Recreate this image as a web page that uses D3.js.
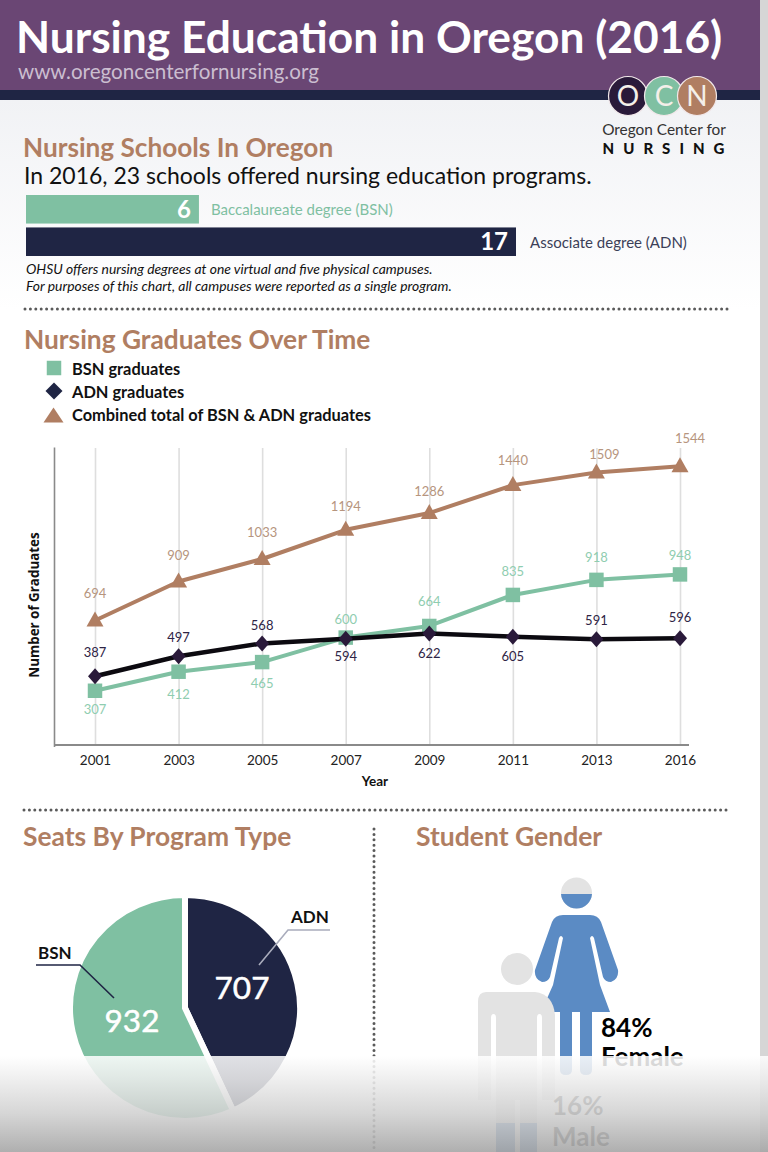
<!DOCTYPE html>
<html><head><meta charset="utf-8">
<script src="https://cdn.jsdelivr.net/npm/d3@7"></script>
<style>html,body{margin:0;padding:0;background:#fff}svg{display:block}text{font-family:Lato,"Open Sans",sans-serif}</style>
</head><body><div id="c"></div>
<script>
const schoolTypes=["Baccalaureate degree (BSN)","Associate degree (ADN)"];
const schoolCounts=[6,17];
const years=["2001","2003","2005","2007","2009","2011","2013","2016"];
const bsnGrads=[307,412,465,600,664,835,918,948];
const adnGrads=[387,497,568,594,622,605,591,596];
const totalGrads=[694,909,1033,1194,1286,1440,1509,1544];
const seatTypes=["ADN","BSN"];
const seatCounts=[707,932];
const genderShares=[84,16];
const genderNames=["Female","Male"];

const C={purple:"#6a4674",navy:"#1f2544",green:"#7fc0a2",tan:"#b07e62",ink:"#2a1a3a",blue:"#5b8bc4",gray:"#e3e3e3"};
const svg=d3.select("#c").append("svg").attr("width",768).attr("height",1152).attr("viewBox","0 0 768 1152");
const defs=svg.append("defs");
const bg=defs.append("linearGradient").attr("id","bg").attr("x1",0).attr("x2",0).attr("y1",0).attr("y2",1);
bg.append("stop").attr("offset",0).attr("stop-color","#f1f2f5");bg.append("stop").attr("offset",1).attr("stop-color","#ffffff");
const fade=defs.append("linearGradient").attr("id","fade").attr("x1",0).attr("x2",0).attr("y1",0).attr("y2",1);
[[0,"#ffffff",.86],[.25,"#ececec",.88],[.6,"#d0d0d0",.88],[1,"#a6a6a6",.9]].forEach(s=>fade.append("stop").attr("offset",s[0]).attr("stop-color",s[1]).attr("stop-opacity",s[2]));
const T=(x,y,s,size,fill,opt={})=>svg.append("text").attr("x",x).attr("y",y).text(s).attr("font-size",size).attr("fill",fill)
  .attr("font-weight",opt.w||400).attr("text-anchor",opt.a||"start").attr("font-style",opt.i||"normal").attr("letter-spacing",opt.ls||null);

/* page */
svg.append("rect").attr("width",768).attr("height",1152).attr("fill","#fff");
svg.append("rect").attr("y",100).attr("width",760).attr("height",210).attr("fill","url(#bg)");
svg.append("rect").attr("width",760).attr("height",90).attr("fill",C.purple);
svg.append("rect").attr("y",90).attr("width",760).attr("height",10).attr("fill",C.navy);
svg.append("rect").attr("x",760).attr("width",8).attr("height",1152).attr("fill","#d6d6d6");
T(16,53,"Nursing Education in Oregon (2016)",44.3,"#fff",{w:700});
T(18,79,"www.oregoncenterfornursing.org",20.6,"#cbbed0");

/* logo */
[["O",628,C.ink],["C",664,C.green],["N",697,C.tan]].forEach(d=>{
  svg.append("circle").attr("cx",d[1]).attr("cy",96).attr("r",19.5).attr("fill",d[2]).attr("stroke","#f1e8ea").attr("stroke-width",1.2);
  T(d[1],106,d[0],28,"#f4efe9",{a:"middle"});
});
T(664,135,"Oregon Center for",15.4,"#333",{a:"middle"});
T(668,154,"NURSING",15,"#111",{a:"middle",w:900,ls:"9px"});

/* schools */
T(23,157,"Nursing Schools In Oregon",26.2,C.tan,{w:700});
T(24,184,"In 2016, 23 schools offered nursing education programs.",23,"#111");
const xBar=d3.scaleLinear().domain([0,17]).range([26,516]);
const yBar=d3.scaleBand().domain(schoolTypes).range([195,256]).paddingInner(.12);
const barFill=[C.green,C.navy],labFill=[C.green,"#3c3f58"];
svg.selectAll(".sb").data(schoolCounts).join("rect").attr("x",xBar(0)).attr("y",(d,i)=>yBar(schoolTypes[i]))
  .attr("width",d=>xBar(d)-xBar(0)).attr("height",yBar.bandwidth()).attr("fill",(d,i)=>barFill[i]);
svg.selectAll(".sv").data(schoolCounts).join("text").attr("x",d=>xBar(d)-8).attr("y",(d,i)=>yBar(schoolTypes[i])+yBar.bandwidth()/2+8.5)
  .attr("text-anchor","end").attr("font-size",24).attr("font-weight",700).attr("fill","#fff").text(d=>d);
svg.selectAll(".sl").data(schoolTypes).join("text").attr("x",(d,i)=>xBar(schoolCounts[i])+(i?14:12)).attr("y",(d,i)=>yBar(d)+yBar.bandwidth()/2+6)
  .attr("font-size",15).attr("fill",(d,i)=>labFill[i]).text(d=>d);
T(26,274,"OHSU offers nursing degrees at one virtual and five physical campuses.",13.9,"#111",{i:"italic"});
T(26,291,"For purposes of this chart, all campuses were reported as a single program.",13.9,"#111",{i:"italic"});

const dotted=(x1,y1,x2,y2)=>svg.append("line").attr("x1",x1).attr("y1",y1).attr("x2",x2).attr("y2",y2)
  .attr("stroke","#5a5a5a").attr("stroke-width",3).attr("stroke-linecap","round").attr("stroke-dasharray","0 5.4");
dotted(25,309,729,309);dotted(24,810,727,810);dotted(374,829,374,1152);

/* line chart */
T(24,349,"Nursing Graduates Over Time",26.3,C.tan,{w:700});
const sym=(t,s)=>d3.symbol().type(t).size(s)();
const shapes={bsn:sym(d3.symbolSquare,210),adn:"M0,-8L7,0L0,8L-7,0Z",tot:"M0,-9L8.5,6L-8.5,6Z"};
const legendShapes={adn:"M0,-8.5L8.5,0L0,8.5L-8.5,0Z",tot:"M0,-8.5L10,6.5L-10,6.5Z"};
[["BSN graduates",shapes.bsn,C.green,368,375],["ADN graduates",legendShapes.adn,C.navy,391,398],["Combined total of BSN & ADN graduates",legendShapes.tot,C.tan,416,421]].forEach(d=>{
  svg.append("path").attr("d",d[1]).attr("transform",`translate(${d[0][0]==="C"?53.5:54},${d[3]})`).attr("fill",d[2]);
  T(72,d[4],d[0],16.4,"#111",{w:700});
});
const x=d3.scalePoint().domain(years).range([95,680]);
const y=d3.scaleLinear().domain([0,1650]).range([746.5,447]);
const gx=svg.append("g").attr("transform","translate(0,745)").call(d3.axisBottom(x).tickSize(-297).tickPadding(10));
gx.select(".domain").remove();
gx.selectAll("line").attr("stroke","#dedede").attr("stroke-width",1.6);
gx.selectAll("text").attr("font-size",13.5).attr("fill","#222").attr("font-family","Lato");
svg.append("g").attr("transform","translate(54,0)").call(d3.axisLeft(y).tickValues([]).tickSize(0)).select(".domain").attr("stroke","#8a8a8a").attr("stroke-width",1.6);
svg.append("line").attr("x1",54).attr("x2",689).attr("y1",745).attr("y2",745).attr("stroke","#8a8a8a").attr("stroke-width",2);
T(375,786,"Year",13.5,"#111",{a:"middle",w:700});
svg.append("text").attr("transform","translate(39,605) rotate(-90)").attr("text-anchor","middle").attr("font-size",13.4).attr("font-weight",700).attr("fill","#111").style("font-family","'Open Sans'").text("Number of Graduates");

const line=d3.line().x((d,i)=>x(years[i])).y(d=>y(d));
const series=[
 {v:bsnGrads,c:C.green,w:4,s:shapes.bsn,lab:"#8fcdb0",off:[19,23,21,-18,-24,-23,-22,-19]},
 {v:totalGrads,c:C.tan,w:4,s:shapes.tot,lab:"#b6957e",off:[-27,-26,-26,-23,-22,-24.5,-18,-28],dx:[0,0,0,0,0,0,8,10]},
 {v:adnGrads,c:"#0c0a10",w:4.5,s:shapes.adn,mark:C.ink,lab:"#2e2445",off:[-24,-19,-18,18,20,20,-19,-21]}
];
series.forEach(S=>{
  svg.append("path").attr("d",line(S.v)).attr("fill","none").attr("stroke",S.c).attr("stroke-width",S.w).attr("stroke-linejoin","round");
  svg.selectAll(null).data(S.v).join("path").attr("d",S.s).attr("transform",(d,i)=>`translate(${x(years[i])},${y(d)})`).attr("fill",S.mark||S.c);
  svg.selectAll(null).data(S.v).join("text").attr("x",(d,i)=>x(years[i])+(S.dx?S.dx[i]:0)).attr("y",(d,i)=>y(d)+S.off[i]+4.5)
    .attr("text-anchor","middle").attr("font-size",13).attr("fill",S.lab).text(d=>d);
});

/* pie */
T(23,846,"Seats By Program Type",26.4,C.tan,{w:700});
T(416,846,"Student Gender",26.5,C.tan,{w:700});
const pie=d3.pie().sort(null)(seatCounts);
const arc=d3.arc().innerRadius(0).outerRadius(115);
const gp=svg.append("g").attr("transform","translate(185,1008) scale(1,.982)");
gp.selectAll("path").data(pie).join("path").attr("d",arc).attr("fill",(d,i)=>i?C.green:C.navy).attr("stroke","#fff").attr("stroke-width",6);
T(242,999,seatCounts[0],31.5,"#fff",{a:"middle"}).attr("stroke","#fff").attr("stroke-width",.5);
T(132,1032,seatCounts[1],31.5,"#fff",{a:"middle"}).attr("stroke","#fff").attr("stroke-width",.5);
T(291,923,seatTypes[0],17,"#111",{w:700});
T(38,959,seatTypes[1],17,"#111",{w:700});
svg.append("path").attr("d","M330,930H288L259,965").attr("fill","none").attr("stroke","#a9acbc").attr("stroke-width",1.6);
svg.append("path").attr("d","M36,965H80L114,998").attr("fill","none").attr("stroke",C.navy).attr("stroke-width",1.6);

/* gender icons */
const womanD="M563,915H590Q598,915 601,922L618,970Q619,979 611,982Q605,982 603,977L594,938Q592,934 590,938L600,985L610,1012H592V1070Q592,1075 586,1075Q580,1075 580,1070V1012H572V1070Q572,1075 566,1075Q560,1075 560,1070V1012H541L553,985L563,938Q561,934 559,938L550,977Q548,982 542,982Q534,979 535,970L552,922Q555,915 563,915Z";
svg.append("path").attr("d",womanD).attr("fill",C.blue);
const man=svg.append("g");
man.append("circle").attr("cx",517).attr("cy",969).attr("r",16).attr("fill",C.gray);
man.append("path").attr("d","M486,992H535Q553,994 555,1015V1100H478V1002Q478,992 486,992Z").attr("fill",C.gray);
man.append("path").attr("d","M496,1100H515V1152H496ZM520,1100H537V1152H520Z").attr("fill",C.gray);
man.append("path").attr("d","M496,1123H515V1152H496ZM520,1123H537V1152H520Z").attr("fill",C.blue);
man.append("path").attr("d","M491,1018Q491,1014 493.5,1014Q496,1014 496,1018V1100H491ZM537,1018Q537,1014 539.5,1014Q542,1014 542,1018V1100H537Z").attr("fill","#fff");
const hc=defs.append("clipPath").attr("id","hb");hc.append("rect").attr("x",555).attr("y",894).attr("width",45).attr("height",20);
svg.append("circle").attr("cx",576.5).attr("cy",893).attr("r",15.5).attr("fill",C.gray);
svg.append("circle").attr("cx",576.5).attr("cy",893).attr("r",15.5).attr("fill",C.blue).attr("clip-path","url(#hb)");
T(601,1037,genderShares[0]+"%",26,"#000",{w:700});
T(601,1066,genderNames[0],26,"#000",{w:700});
T(552,1115,genderShares[1]+"%",26,"#333",{w:700});
T(552,1146,genderNames[1],26,"#333",{w:700});

/* bottom fade */
svg.append("rect").attr("y",1056).attr("width",768).attr("height",96).attr("fill","url(#fade)");
</script></body></html>
